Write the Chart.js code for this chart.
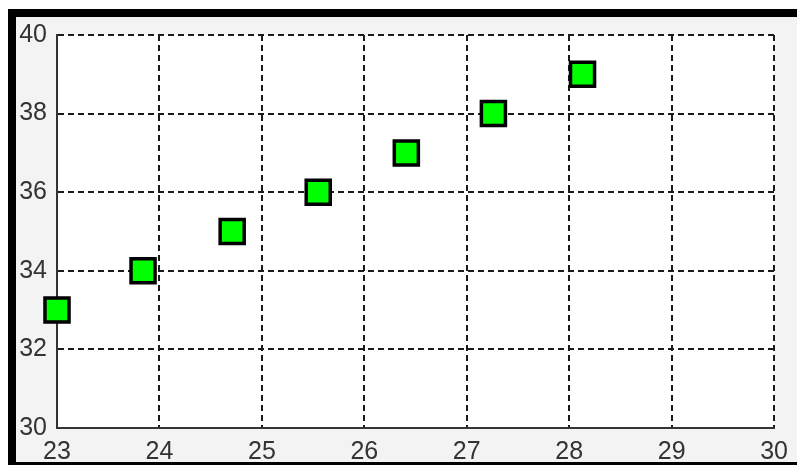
<!DOCTYPE html>
<html>
<head>
    <meta charset="UTF-8">
    <title>Scatter</title>
    <script src="https://cdn.jsdelivr.net/npm/chart.js"></script>
    <style>
        body, html {
            margin: 0;
            padding: 0;
            background-color: #fff;
        }
        #wrap {
            position: relative;
            width: 797px;
            height: 465px;
        }
    </style>
</head>
<body>
    <div id="wrap">
        <canvas id="chart" width="797" height="465"></canvas>
    </div>

    <script>
        // measured points
        var xValues = [23, 23.84, 24.71, 25.55, 26.41, 27.26, 28.13];
        var yValues = [33, 34, 35, 36, 37, 38, 39];

        // axis ranges and tick steps
        var xMin = 23, xMax = 30, xStep = 1;
        var yMin = 30, yMax = 40, yStep = 2;

        var points = xValues.map(function(x, i) {
            return { x: x, y: yValues[i] };
        });

        // window frame: black edge, grey figure background, white axes box
        var framePlugin = {
            id: 'frame',
            beforeDraw: function(chart) {
                var ctx = chart.ctx;
                var a = chart.chartArea;
                ctx.save();
                ctx.fillStyle = '#ffffff';
                ctx.fillRect(0, 0, chart.width, chart.height);
                ctx.fillStyle = '#000000';
                ctx.fillRect(8, 9, chart.width - 8, chart.height - 9);
                ctx.fillStyle = '#f3f3f3';
                ctx.fillRect(16, 17, chart.width - 16, chart.height - 17 - 3);
                ctx.fillStyle = '#ffffff';
                ctx.fillRect(a.left, a.top, a.right - a.left, a.bottom - a.top);
                ctx.restore();
            }
        };

        var tickFont = { family: '"Liberation Sans", Arial, sans-serif', size: 25 };

        new Chart(document.getElementById('chart').getContext('2d'), {
            type: 'scatter',
            data: {
                datasets: [{
                    data: points,
                    clip: false,
                    pointStyle: 'rect',
                    pointRadius: 17,
                    pointHoverRadius: 17,
                    pointBackgroundColor: '#00ff00',
                    pointBorderColor: '#000000',
                    pointBorderWidth: 3.5
                }]
            },
            options: {
                responsive: false,
                animation: false,
                events: [],
                layout: {
                    padding: { left: 0, top: 35, right: 22, bottom: 0 }
                },
                plugins: {
                    legend: { display: false },
                    tooltip: { enabled: false }
                },
                scales: {
                    x: {
                        type: 'linear',
                        min: xMin,
                        max: xMax,
                        afterFit: function(scale) { scale.height = 37; },
                        ticks: {
                            stepSize: xStep,
                            color: '#333333',
                            font: tickFont,
                            padding: 9,
                            maxRotation: 0
                        },
                        grid: {
                            color: '#1a1a1a',
                            lineWidth: 2,
                            drawTicks: false
                        },
                        border: {
                            display: true,
                            color: '#333333',
                            width: 2,
                            dash: [6, 4]
                        }
                    },
                    y: {
                        min: yMin,
                        max: yMax,
                        afterFit: function(scale) { scale.width = 57; },
                        ticks: {
                            stepSize: yStep,
                            color: '#333333',
                            font: tickFont,
                            padding: 10
                        },
                        grid: {
                            color: '#1a1a1a',
                            lineWidth: 2,
                            drawTicks: false
                        },
                        border: {
                            display: true,
                            color: '#333333',
                            width: 2,
                            dash: [6, 4]
                        }
                    }
                }
            },
            plugins: [framePlugin]
        });
    </script>
</body>
</html>
